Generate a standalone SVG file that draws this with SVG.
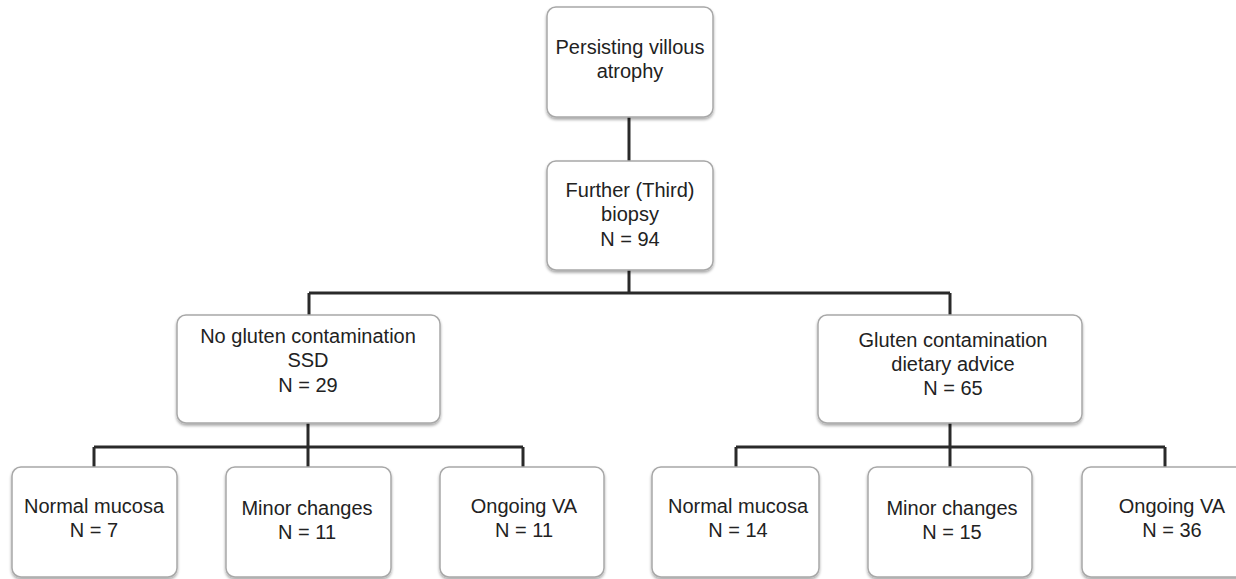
<svg xmlns="http://www.w3.org/2000/svg" width="1236" height="579" viewBox="0 0 1236 579">
<defs>
<filter id="sh" x="-10%" y="-10%" width="120%" height="130%">
<feGaussianBlur in="SourceAlpha" stdDeviation="1.5"/>
<feOffset dx="0" dy="2" result="b"/>
<feComponentTransfer><feFuncA type="linear" slope="0.35"/></feComponentTransfer>
<feMerge><feMergeNode/><feMergeNode in="SourceGraphic"/></feMerge>
</filter>
</defs>
<style>
.box{fill:#ffffff;stroke:#a8a8a8;stroke-width:1.5;filter:url(#sh)}
.lbl{font-family:"Liberation Sans",Arial,sans-serif;font-size:20px;fill:#222;text-anchor:middle}
.con{fill:none;stroke:#2a2a2a;stroke-width:3}
</style>
<rect width="1236" height="579" fill="#ffffff"/>
<g id="connectors">
<path class="con" d="M629,117 V161"/>
<path class="con" d="M629,270 V293 M309,293 H950 M309,293 V315 M950,293 V315"/>
<path class="con" d="M308,423 V447 M94,447 H523 M94,447 V467 M308,447 V467 M523,447 V467"/>
<path class="con" d="M950,423 V447 M736,447 H1165 M736,447 V467 M950,447 V467 M1165,447 V467"/>
</g>
<g id="n1"><rect class="box" x="547" y="7" width="166" height="110" rx="9"/>
<text class="lbl" x="630" y="54">Persisting villous</text><text class="lbl" x="630" y="78">atrophy</text></g>
<g id="n2"><rect class="box" x="547" y="161" width="166" height="109" rx="9"/>
<text class="lbl" x="630" y="197">Further (Third)</text><text class="lbl" x="630" y="221">biopsy</text><text class="lbl" x="630" y="246">N = 94</text></g>
<g id="n3"><rect class="box" x="177" y="315" width="263" height="108" rx="9"/>
<text class="lbl" x="308" y="343">No gluten contamination</text><text class="lbl" x="308" y="367">SSD</text><text class="lbl" x="308" y="392">N = 29</text></g>
<g id="n4"><rect class="box" x="818" y="315" width="264" height="108" rx="9"/>
<text class="lbl" x="953" y="347">Gluten contamination</text><text class="lbl" x="953" y="371">dietary advice</text><text class="lbl" x="953" y="395">N = 65</text></g>
<g id="n5"><rect class="box" x="12" y="467" width="165" height="110" rx="9"/>
<text class="lbl" x="94" y="513">Normal mucosa</text><text class="lbl" x="94" y="537">N = 7</text></g>
<g id="n6"><rect class="box" x="226" y="467" width="165" height="110" rx="9"/>
<text class="lbl" x="307" y="515">Minor changes</text><text class="lbl" x="307" y="539">N = 11</text></g>
<g id="n7"><rect class="box" x="440" y="467" width="164" height="110" rx="9"/>
<text class="lbl" x="524" y="513">Ongoing VA</text><text class="lbl" x="524" y="537">N = 11</text></g>
<g id="n8"><rect class="box" x="652" y="467" width="167" height="110" rx="9"/>
<text class="lbl" x="738" y="513">Normal mucosa</text><text class="lbl" x="738" y="537">N = 14</text></g>
<g id="n9"><rect class="box" x="868" y="467" width="164" height="110" rx="9"/>
<text class="lbl" x="952" y="515">Minor changes</text><text class="lbl" x="952" y="539">N = 15</text></g>
<g id="n10"><rect class="box" x="1082" y="467" width="166" height="110" rx="9"/>
<text class="lbl" x="1172" y="513">Ongoing VA</text><text class="lbl" x="1172" y="537">N = 36</text></g>
</svg>
